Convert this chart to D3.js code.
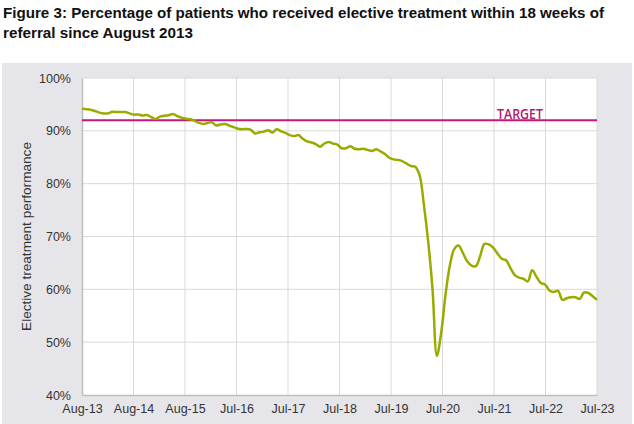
<!DOCTYPE html>
<html>
<head>
<meta charset="utf-8">
<script src="https://cdn.jsdelivr.net/npm/d3@7"></script>
<style>
  body { margin: 0; background: #fff; }
  svg { display: block; }
</style>
</head>
<body>
<div id="chart"></div>
<script>
// monthly performance, Aug-13 .. Jul-23 (% within 18 weeks)
var performance = [
  94.2, 94.1, 94.0, 93.75, 93.45, 93.3, 93.3, 93.6, 93.55, 93.55, 93.56, 93.3,
  93.06, 93.1, 92.9, 93.0, 92.6, 92.24, 92.7, 92.85, 92.95, 93.2, 92.8, 92.5,
  92.3, 92.2, 91.9, 91.5, 91.3, 91.5, 91.6, 91.0, 91.2, 91.3, 91.0, 90.7,
  90.4, 90.3, 90.35, 90.2, 89.5, 89.75, 89.85, 90.1, 89.7, 90.3, 89.9, 89.6,
  89.2, 89.0, 89.2, 88.5, 88.0, 87.8, 87.5, 87.0, 87.6, 87.9, 87.6, 87.4,
  86.7, 86.7, 87.1, 86.6, 86.5, 86.6, 86.4, 86.2, 86.5, 86.1, 85.6, 84.9,
  84.6, 84.5, 84.25, 83.8, 83.35, 83.2, 81.6, 76.0, 69.0, 60.0, 47.4, 51.8,
  59.0, 64.5, 67.6, 68.3, 66.9, 65.3, 64.5, 64.4, 66.3, 68.6, 68.5, 67.9,
  66.8, 65.8, 65.5, 64.0, 62.7, 62.2, 62.0, 61.5, 63.6, 62.4, 61.2, 60.9,
  59.8, 59.5, 59.7, 58.0, 58.3, 58.5, 58.5, 58.2, 59.4, 59.3, 58.7, 58.0
];
var target = 92;
var xTickLabels = ["Aug-13", "Aug-14", "Aug-15", "Jul-16", "Jul-17", "Jul-18",
                   "Jul-19", "Jul-20", "Jul-21", "Jul-22", "Jul-23"];
var yTicks = [40, 50, 60, 70, 80, 90, 100];

var width = 634, height = 424;
var margin = {left: 82, right: 37, top: 78, bottom: 29};

var svg = d3.select("#chart").append("svg")
    .attr("width", width)
    .attr("height", height);

// title
var title = svg.append("g")
    .style("font-family", "'Liberation Sans', Arial, sans-serif")
    .style("font-weight", "bold")
    .style("font-size", "15.5px")
    .attr("fill", "#111");
title.append("text").attr("x", 3).attr("y", 18)
    .attr("textLength", 601).attr("lengthAdjust", "spacingAndGlyphs")
    .text("Figure 3: Percentage of patients who received elective treatment within 18 weeks of");
title.append("text").attr("x", 3).attr("y", 38)
    .attr("textLength", 190).attr("lengthAdjust", "spacingAndGlyphs")
    .text("referral since August 2013");

// grey panel
svg.append("rect")
    .attr("x", 2).attr("y", 63)
    .attr("width", 630).attr("height", 361)
    .attr("fill", "#e6e6ea");

var x = d3.scaleLinear()
    .domain([0, performance.length - 1])
    .range([margin.left, width - margin.right]);

var y = d3.scaleLinear()
    .domain([40, 100])
    .range([height - margin.bottom, margin.top]);

// plot area
svg.append("rect")
    .attr("x", margin.left).attr("y", margin.top)
    .attr("width", x.range()[1] - margin.left)
    .attr("height", y(40) - margin.top)
    .attr("fill", "#fff");

// tick positions spread evenly across the date range
var tickPos = xTickLabels.map(function(d, i) {
  return i * (performance.length - 1) / (xTickLabels.length - 1);
});

// grid
svg.append("g").selectAll("line.h")
    .data(yTicks.slice(1))
    .enter().append("line")
    .attr("x1", margin.left).attr("x2", x.range()[1])
    .attr("y1", function(d) { return y(d); })
    .attr("y2", function(d) { return y(d); })
    .attr("stroke", "#d9d9d9").attr("stroke-width", 1);

svg.append("g").selectAll("line.v")
    .data(tickPos.slice(1))
    .enter().append("line")
    .attr("x1", function(d) { return x(d); })
    .attr("x2", function(d) { return x(d); })
    .attr("y1", margin.top).attr("y2", y(40))
    .attr("stroke", "#d9d9d9").attr("stroke-width", 1);

// axes
var yAxis = svg.append("g")
    .attr("transform", "translate(" + margin.left + ",0)")
    .call(d3.axisLeft(y).tickValues(yTicks).tickSize(0).tickPadding(11)
          .tickFormat(function(d) { return d + "%"; }));

var xAxis = svg.append("g")
    .attr("transform", "translate(0," + y(40) + ")")
    .call(d3.axisBottom(x).tickValues(tickPos).tickSize(0).tickPadding(9)
          .tickFormat(function(d, i) { return xTickLabels[i]; }));

[yAxis, xAxis].forEach(function(a) {
  a.select(".domain").attr("stroke", "#bfbfbf").attr("stroke-width", 1.5);
  a.selectAll("text")
      .style("font-family", "'Liberation Sans', Arial, sans-serif")
      .style("font-size", "12.5px")
      .attr("fill", "#333");
});

svg.append("text")
    .attr("transform", "translate(31," + ((margin.top + y(40)) / 2) + ") rotate(-90)")
    .attr("text-anchor", "middle")
    .style("font-family", "'Liberation Sans', Arial, sans-serif")
    .style("font-size", "13.6px")
    .attr("fill", "#333")
    .text("Elective treatment performance");

// target
svg.append("line")
    .attr("x1", margin.left).attr("x2", x.range()[1])
    .attr("y1", y(target)).attr("y2", y(target))
    .attr("stroke", "#c4177c").attr("stroke-width", 2);

svg.append("text")
    .attr("x", 497).attr("y", 118.5)
    .attr("textLength", 46).attr("lengthAdjust", "spacingAndGlyphs")
    .style("font-family", "'Open Sans', sans-serif")
    .style("font-size", "14px")
    .style("font-weight", "600")
    .attr("fill", "#b3176f")
    .text("TARGET");

// performance line
var line = d3.line()
    .x(function(d, i) { return x(i); })
    .y(function(d) { return y(d); })
    .curve(d3.curveCatmullRom.alpha(0.5));

svg.append("path")
    .datum(performance)
    .attr("d", line)
    .attr("fill", "none")
    .attr("stroke", "#9aab00")
    .attr("stroke-width", 2.5)
    .attr("stroke-linejoin", "round");
</script>
</body>
</html>
